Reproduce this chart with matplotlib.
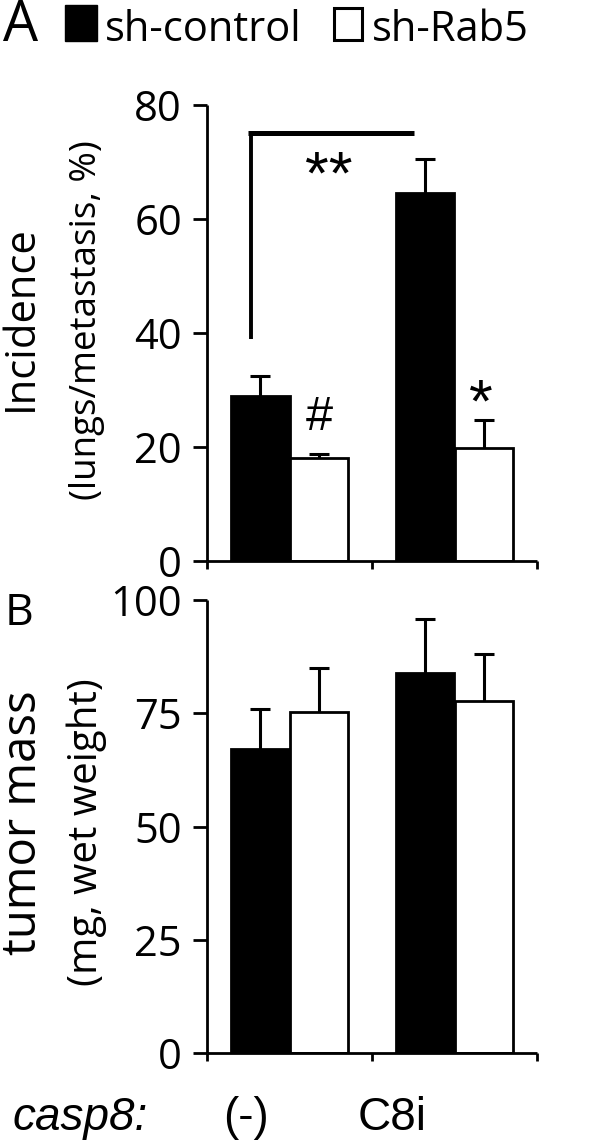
import matplotlib
matplotlib.use("Agg")
import matplotlib.pyplot as plt
import numpy as np
from matplotlib.patches import Rectangle

# data
groups = ["(-)", "C8i"]
series = ["sh-control", "sh-Rab5"]

incidence_ctrl = [29.0, 64.6]
incidence_ctrl_err = [3.5, 5.9]
incidence_rab5 = [18.0, 19.8]
incidence_rab5_err = [0.8, 4.9]

mass_ctrl = [67.1, 83.9]
mass_ctrl_err = [8.8, 11.9]
mass_rab5 = [75.3, 77.7]
mass_rab5_err = [9.7, 10.3]

yticks_a = [0, 20, 40, 60, 80]
yticks_b = [0, 25, 50, 75, 100]

MYRIAD = ["Open Sans", "DejaVu Sans"]
ARIAL = ["Liberation Sans", "DejaVu Sans"]

fig = plt.figure(figsize=(6, 11.44), dpi=100)
ax_a = fig.add_axes([0.345, 0.5096, 0.55, 0.3986])
ax_b = fig.add_axes([0.345, 0.0795, 0.55, 0.396])

width = 0.355
x = np.arange(len(groups)) + 0.5


def draw_panel(ax, ctrl, ctrl_err, rab, rab_err, yticks):
    # error bars behind opaque bars so only the upper half shows
    ax.errorbar(x - width / 2, ctrl, yerr=ctrl_err, fmt="none", ecolor="black",
                elinewidth=2.2, capsize=7.5, capthick=2.2, zorder=1)
    ax.errorbar(x + width / 2, rab, yerr=rab_err, fmt="none", ecolor="black",
                elinewidth=2.2, capsize=7.5, capthick=2.2, zorder=1)
    ax.bar(x - width / 2, ctrl, width, color="black", edgecolor="black",
           linewidth=2.0, zorder=2)
    ax.bar(x + width / 2, rab, width, color="white", edgecolor="black",
           linewidth=2.0, zorder=2)

    ax.set_xlim(0, 2)
    ax.set_ylim(yticks[0], yticks[-1])
    ax.set_yticks(yticks)
    ax.set_xticks([0, 1, 2])
    ax.set_xticklabels([])
    ax.set_yticklabels([str(t) for t in yticks], fontfamily=MYRIAD, fontsize=30)
    for side in ("top", "right"):
        ax.spines[side].set_visible(False)
    for side in ("left", "bottom"):
        ax.spines[side].set_linewidth(2.0)
        ax.spines[side].set_capstyle("butt")
    ax.tick_params(axis="y", direction="out", length=10, width=2.0, pad=8)
    ax.tick_params(axis="x", direction="out", length=6, width=2.0)


draw_panel(ax_a, incidence_ctrl, incidence_ctrl_err, incidence_rab5,
           incidence_rab5_err, yticks_a)
draw_panel(ax_b, mass_ctrl, mass_ctrl_err, mass_rab5, mass_rab5_err, yticks_b)

# significance bracket and marks in panel A
ax_a.plot([0.267, 0.267], [38.9, 75.1], color="black", lw=2.8,
          solid_capstyle="butt", clip_on=False)
ax_a.plot([0.25, 1.255], [75.1, 75.1], color="black", lw=3.6,
          solid_capstyle="butt", clip_on=False)
ax_a.text(0.74, 64.4, "**", ha="center", va="baseline", fontsize=44,
          fontfamily=ARIAL)
ax_a.text(0.679, 23.0, "#", ha="center", va="baseline", fontsize=35,
          fontfamily=ARIAL)
ax_a.text(1.66, 24.4, "*", ha="center", va="baseline", fontsize=44,
          fontfamily=ARIAL)

# axis titles
fig.text(0.035, 0.722, "Incidence", rotation=90, ha="center", va="center",
         fontsize=30, fontfamily=MYRIAD)
fig.text(0.145, 0.720, "(lungs/metastasis, %)", rotation=90, ha="center",
         va="center", fontsize=26.5, fontfamily=MYRIAD)
fig.text(0.038, 0.281, "tumor mass", rotation=90, ha="center", va="center",
         fontsize=34, fontfamily=MYRIAD)
fig.text(0.145, 0.273, "(mg, wet weight)", rotation=90, ha="center",
         va="center", fontsize=29, fontfamily=MYRIAD)

# panel letters
fig.text(0.005, 1 - 41 / 1144, "A", ha="left", va="baseline", fontsize=40,
         fontfamily=MYRIAD)
fig.text(0.008, 1 - 625 / 1144, "B", ha="left", va="baseline", fontsize=32,
         fontfamily=MYRIAD)

# legend
fig.patches.append(Rectangle((65 / 600, 1 - 41 / 1144), 32 / 600, 36 / 1144,
                             transform=fig.transFigure, facecolor="black",
                             edgecolor="black", figure=fig))
fig.text(105 / 600, 1 - 41 / 1144, series[0], ha="left", va="baseline",
         fontsize=30, fontfamily=MYRIAD)
fig.patches.append(Rectangle((334 / 600, 1 - 40 / 1144), 28 / 600, 32 / 1144,
                             transform=fig.transFigure, facecolor="white",
                             edgecolor="black", linewidth=2.2, figure=fig))
fig.text(372 / 600, 1 - 41 / 1144, series[1], ha="left", va="baseline",
         fontsize=30, fontfamily=MYRIAD)

# group labels
fig.text(13 / 600, 1 - 1130 / 1144, "casp8:", ha="left", va="baseline",
         fontsize=33, fontstyle="italic", fontfamily=ARIAL)
for lab, xpos in zip(groups, [246, 392]):
    fig.text(xpos / 600, 1 - 1130 / 1144, lab, ha="center", va="baseline",
             fontsize=33, fontfamily=ARIAL)

fig.savefig("out.png", dpi=100, facecolor="white")
